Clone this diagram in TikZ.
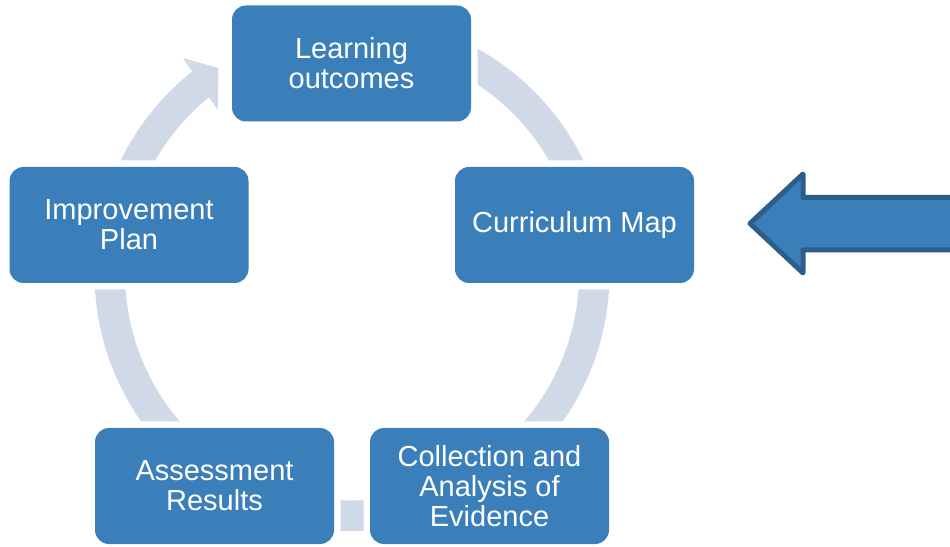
\documentclass[tikz,border=0pt]{standalone}
\usepackage{fontspec}
\setmainfont{Liberation Sans}
\definecolor{boxblue}{RGB}{58,127,186}
\definecolor{ringgray}{RGB}{208,217,231}
\definecolor{arrowedge}{RGB}{44,94,138}
\begin{document}
\begin{tikzpicture}[x=1pt,y=1pt,
  cbox/.style={rounded corners=14pt, fill=boxblue, minimum width=239pt, minimum height=116pt,
    inner sep=0pt, text=white, align=center, font=\fontsize{29}{30}\selectfont,
    preaction={draw=white, line width=13pt}},
  ringband/.style={draw=ringgray, line width=30.5pt},
  bigarrow/.style={fill=boxblue, draw=arrowedge, line width=5pt, line join=round}]
\useasboundingbox (0,0) rectangle (950,546);
\clip (0,0) rectangle (950,546);
\coordinate (C) at (352,272.5);
% cycle ring with arrowhead
\draw[ringband] (C) ++(95:242.25) arc[start angle=95, end angle=-232.5, radius=242.25];
\coordinate (hb1) at (183,488);
\coordinate (ht) at (218.5,478);
\coordinate (hb2) at (217.7,436);
\fill[ringgray] (hb1) -- (ht) -- (hb2) -- cycle;
% big left arrow
\filldraw[bigarrow] (960,348.5) -- (803,348.5) -- (803,372) -- (750,322.5) -- (803,273) -- (803,296) -- (960,296) -- cycle;
% boxes
\node[cbox] (lo) at (351.5,482.5) {Learning\\outcomes};
\node[cbox] (cm) at (574.5,321) {Curriculum Map};
\node[cbox] (ca) at (489.5,60) {Collection and\\Analysis of\\Evidence};
\node[cbox] (ar) at (214.5,60) {Assessment\\Results};
\node[cbox] (ip) at (129,321) {Improvement\\Plan};
\end{tikzpicture}
\end{document}
